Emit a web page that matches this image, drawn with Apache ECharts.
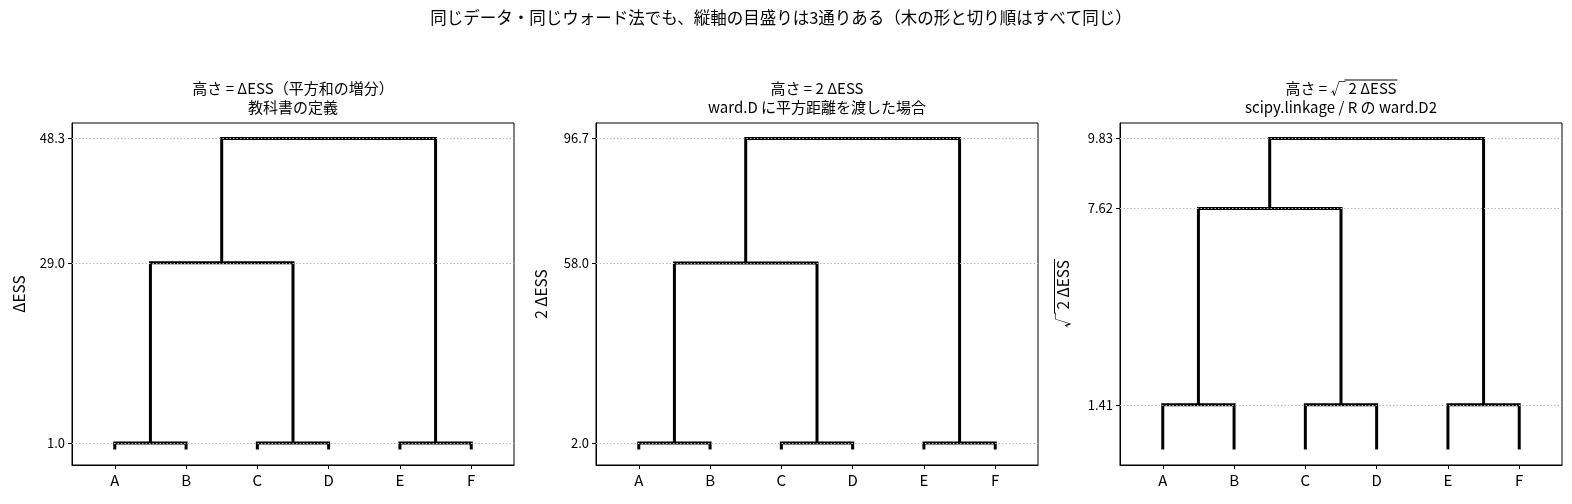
<!DOCTYPE html>
<html>
<head>
<meta charset="utf-8">
<script src="https://cdn.jsdelivr.net/npm/echarts@6/dist/echarts.min.js"></script>
<style>
  html, body { margin: 0; padding: 0; background: #fff; }
  #main { width: 1572px; height: 504px; }
</style>
</head>
<body>
<div id="main"></div>
<script>
// 葉（ラベル）と結合の順番（scipy の linkage と同じ番号付け：葉 0..5、結合ノード 6..）
var leaves = ['A', 'B', 'C', 'D', 'E', 'F'];
var merges = [[0, 1], [2, 3], [4, 5], [6, 7], [8, 9]];

// 各パネルの結合の高さ
var heightsEss = [1.0, 1.0, 1.0, 29.0, 48.3];
var heightsTwoEss = [2.0, 2.0, 2.0, 58.0, 96.7];
var heightsSqrt = [1.41, 1.41, 1.41, 7.62, 9.83];

// 縦軸の目盛り
var ticksEss = [1.0, 29.0, 48.3];
var ticksTwoEss = [2.0, 58.0, 96.7];
var ticksSqrt = [1.41, 7.62, 9.83];

var FONT = 'Noto Sans CJK JP';
var ROOT = '√';
var RADICAND = '\u20092 ΔESS';

var panels = [
	{ heights: heightsEss, ticks: ticksEss, dec: 1, left: 72,
	  title: '高さ = ΔESS（平方和の増分）\n教科書の定義', yname: 'ΔESS', gap: 45 },
	{ heights: heightsTwoEss, ticks: ticksTwoEss, dec: 1, left: 596,
	  title: '高さ = 2 ΔESS\nward.D に平方距離を渡した場合', yname: '2 ΔESS', gap: 47 },
	{ heights: heightsSqrt, ticks: ticksSqrt, dec: 2, left: 1120,
	  title: '高さ = ' + ROOT + RADICAND + '\nscipy.linkage / R の ward.D2', yname: ROOT + RADICAND, gap: 49 }
];

// 結合ごとに「コの字」の折れ線を作る
function buildLinks(heights) {
	var pos = leaves.map(function (_, i) { return i; });
	var hts = leaves.map(function () { return 0; });
	var links = [];
	merges.forEach(function (m, k) {
		var a = m[0], b = m[1], h = heights[k];
		links.push([[pos[a], hts[a]], [pos[a], h], [pos[b], h], [pos[b], hts[b]]]);
		pos.push((pos[a] + pos[b]) / 2);
		hts.push(h);
	});
	return links;
}

// 根号の横棒（vinculum）の位置を文字幅から求める
var ctx = document.createElement('canvas').getContext('2d');
function textW(s, size) {
	ctx.font = size + 'px "' + FONT + '"';
	return ctx.measureText(s).width;
}

var titles = [{
	text: '同じデータ・同じウォード法でも、縦軸の目盛りは3通りある（木の形と切り順はすべて同じ）',
	left: 781, top: 8, textAlign: 'center', padding: 0,
	textStyle: { fontFamily: FONT, fontSize: 16.5, fontWeight: 'normal', color: '#000', lineHeight: 20 }
}];
var grids = [], xAxes = [], yAxes = [], series = [];

panels.forEach(function (p, i) {
	var top = Math.max.apply(null, p.heights);
	titles.push({
		text: p.title, left: p.left + 221, top: 79, textAlign: 'center', padding: 0,
		textStyle: { fontFamily: FONT, fontSize: 15, fontWeight: 'normal', color: '#000', lineHeight: 19 }
	});
	grids.push({ left: p.left, top: 123, width: 442, height: 342, show: true,
		borderColor: '#000', borderWidth: 1, backgroundColor: 'transparent' });
	xAxes.push({
		type: 'value', gridIndex: i, min: -0.6, max: 5.6,
		axisLine: { show: true, onZero: false, lineStyle: { color: '#000', width: 1 } },
		axisTick: { show: true, length: 4, customValues: [0, 1, 2, 3, 4, 5], lineStyle: { color: '#000', width: 1 } },
		axisLabel: { customValues: [0, 1, 2, 3, 4, 5], margin: 8, color: '#000', fontFamily: FONT, fontSize: 15,
			formatter: function (v) { return leaves[Math.round(v)]; } },
		splitLine: { show: false }
	});
	yAxes.push({
		type: 'value', gridIndex: i, min: -0.05 * top, max: 1.05 * top,
		name: p.yname, nameLocation: 'middle', nameGap: p.gap, nameRotate: 90,
		nameTextStyle: { fontFamily: FONT, fontSize: 15.5, color: '#000' },
		axisLine: { show: true, onZero: false, lineStyle: { color: '#000', width: 1 } },
		axisTick: { show: true, length: 4, customValues: p.ticks, lineStyle: { color: '#000', width: 1 } },
		axisLabel: { customValues: p.ticks, margin: 7, color: '#000', fontFamily: FONT, fontSize: 13,
			formatter: function (v) { return v.toFixed(p.dec); } },
		splitLine: { show: false }
	});
	buildLinks(p.heights).forEach(function (link) {
		series.push({
			type: 'line', xAxisIndex: i, yAxisIndex: i, data: link,
			showSymbol: false, symbol: 'none', z: 2,
			lineStyle: { color: '#000', width: 3, cap: 'butt', join: 'miter' },
			silent: true, animation: false
		});
	});
	// matplotlib と同じくグリッド線は線の上に重ねる
	series.push({
		type: 'line', xAxisIndex: i, yAxisIndex: i, data: [], z: 5, silent: true, animation: false,
		markLine: {
			symbol: ['none', 'none'], silent: true, animation: false,
			label: { show: false },
			lineStyle: { color: '#b8b8b8', width: 1, type: [1.5, 2] },
			data: p.ticks.map(function (t) { return { yAxis: t }; })
		}
	});
});

// 第3パネルのタイトルと縦軸名の根号の横棒
var p3 = panels[2];
var tFull = textW('高さ = ' + ROOT + RADICAND, 15);
var tPre = textW('高さ = ' + ROOT, 15);
var tx0 = p3.left + 221 - tFull / 2;
var nFull = textW(ROOT + RADICAND, 15.5);
var nRoot = textW(ROOT, 15.5);
var nx = p3.left - p3.gap - 15.5 - 1;
var ny0 = 123 + 171 + nFull / 2;
var vinculum = { stroke: '#000', lineWidth: 1 };

var chart = echarts.init(document.getElementById('main'));
chart.setOption({
	backgroundColor: '#fff',
	animation: false,
	title: titles,
	grid: grids,
	xAxis: xAxes,
	yAxis: yAxes,
	series: series,
	graphic: [
		{ type: 'line', silent: true, z: 10,
		  shape: { x1: tx0 + tPre - 1, y1: 80, x2: tx0 + tFull + 1, y2: 80 }, style: vinculum },
		{ type: 'line', silent: true, z: 10,
		  shape: { x1: nx, y1: ny0 - nRoot + 1, x2: nx, y2: ny0 - nFull - 1 }, style: vinculum }
	]
});
</script>
</body>
</html>
